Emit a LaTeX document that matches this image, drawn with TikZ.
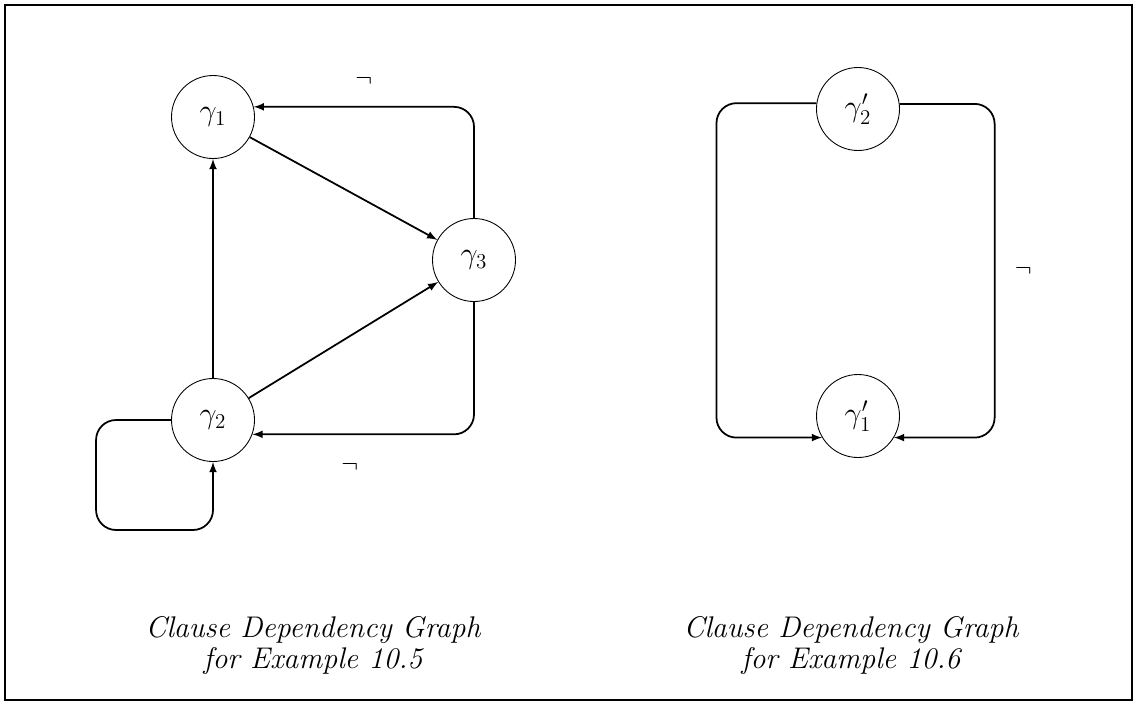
\documentclass[tikz,border=0pt]{standalone}
\usepackage{amsmath}
\usepackage{amssymb}

\tikzset{
  clause/.style={draw, circle, line width=0.5pt, minimum size=1.66cm, inner sep=0pt, font=\fontsize{17}{20}\selectfont},
  dep/.style={->, line width=1pt, rounded corners=0.4cm},
  neg/.style={inner sep=1pt, font=\fontsize{15}{17}\selectfont},
  caption/.style={align=center, font=\fontsize{17}{17.5}\selectfont\itshape}
}

\begin{document}
\begin{tikzpicture}[>=latex]
            \useasboundingbox (0,0) rectangle (22.72,14.1);
            \draw[line width=1pt] (0.1,0.1) rectangle (22.64,14.0);

            % first graph
            \node[clause] (g1) at (4.26,11.76) {$\gamma_1$};
            \node[clause] (g3) at (9.48,8.9) {$\gamma_3$};
            \node[clause] (g2) at (4.26,5.7) {$\gamma_2$};

            \draw[dep] (g1) -- (g3);
            \draw[dep] (g2) -- (g3);
            \draw[dep] (g2) -- (g1);
            \draw[dep] (g3.north) |- node[neg, pos=0.75, above=0.35cm] {$\neg$} (g1.14);
            \draw[dep] (g3.south) |- node[neg, pos=0.78, below=0.5cm] {$\neg$} (g2.-20);
            % loop on gamma 2
            \draw[dep] (g2.west) -- ++(-1.5,0) -- ++(0,-2.2) -| (g2.south);

            % second graph
            \node[clause] (g2p) at (17.16,11.92) {$\gamma'_2$};
            \node[clause] (g1p) at (17.16,5.78) {$\gamma'_1$};

            \draw[dep] (g2p.172) -- ++(-2.0,0) |- (g1p.211);
            \draw[dep] (g2p.7) -- ++(1.9,0) |- node[neg, pos=0.25, right=0.35cm] {$\neg$} (g1p.-31);

            % captions
            \node[caption] (cap1) at (6.26,1.19) {Clause Dependency Graph\\for Example 10.5};
            \node[caption] (cap2) at (17.02,1.19) {Clause Dependency Graph\\for Example 10.6};
\end{tikzpicture}
\end{document}
